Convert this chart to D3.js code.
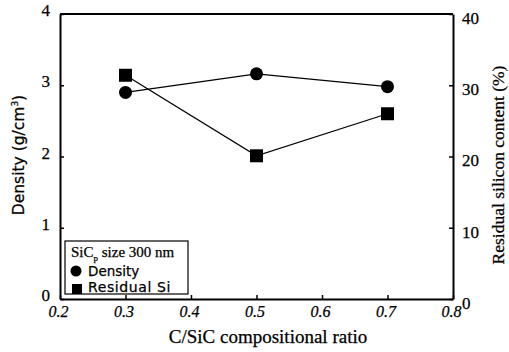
<!DOCTYPE html>
<html><head><meta charset="utf-8">
<script src="https://cdn.jsdelivr.net/npm/d3@7"></script>
<style>body{margin:0;background:#fff}svg{display:block}text{font-family:"Liberation Serif","Times New Roman",serif;fill:#000;stroke:#000;stroke-width:0.25px}</style>
</head><body>
<script>
const ratios = [0.3, 0.5, 0.7];
const density = [2.90, 3.16, 2.98];
const residualSi = [31.4, 20.1, 26.0];
const xTicks = [0.2, 0.3, 0.4, 0.5, 0.6, 0.7, 0.8];
const yLeftTicks = [0, 1, 2, 3, 4];
const yRightTicks = [0, 10, 20, 30, 40];

const W = 509, H = 352;
const m = {l: 60, r: 56, t: 14, b: 53};
const svg = d3.select("body").append("svg").attr("width", W).attr("height", H);
const x = d3.scaleLinear().domain([0.2, 0.8]).range([m.l, W - m.r]);
const yL = d3.scaleLinear().domain([0, 4]).range([H - m.b, m.t]);
const yR = d3.scaleLinear().domain([0, 40]).range([H - m.b, m.t]);

const gx = svg.append("g").attr("transform", `translate(0,${H - m.b})`)
  .call(d3.axisBottom(x).tickValues(xTicks).tickFormat(d3.format(".1f")).tickSizeInner(-4).tickSizeOuter(0).tickPadding(7));
gx.selectAll("text").style("font-size", "16px").style("font-style", "italic").attr("dx", -2);
const gl = svg.append("g").attr("transform", `translate(${m.l},0)`)
  .call(d3.axisLeft(yL).tickValues(yLeftTicks).tickFormat(d3.format("d")).tickSizeInner(-4).tickSizeOuter(0).tickPadding(10));
gl.selectAll("text").style("font-size", "17px").attr("dy", "0.1em");
const gr = svg.append("g").attr("transform", `translate(${W - m.r},0)`)
  .call(d3.axisRight(yR).tickValues(yRightTicks).tickFormat(d3.format("d")).tickSizeInner(-4).tickSizeOuter(0).tickPadding(9));
gr.selectAll("text").style("font-size", "17px").attr("dy", "0.55em");
svg.selectAll(".domain").attr("stroke", "#000").attr("stroke-width", 2);
svg.selectAll(".tick line").attr("stroke", "#000").attr("stroke-width", 1.5);
svg.append("line").attr("x1", m.l).attr("x2", W - m.r).attr("y1", m.t).attr("y2", m.t).attr("stroke", "#000").attr("stroke-width", 2);

const line = d3.line();
svg.append("path").attr("d", line(ratios.map((r, i) => [x(r), yL(density[i])])))
  .attr("fill", "none").attr("stroke", "#000").attr("stroke-width", 1.3);
svg.append("path").attr("d", line(ratios.map((r, i) => [x(r), yR(residualSi[i])])))
  .attr("fill", "none").attr("stroke", "#000").attr("stroke-width", 1.3);
svg.selectAll("circle.d").data(ratios).join("circle")
  .attr("cx", d => x(d)).attr("cy", (d, i) => yL(density[i])).attr("r", 6.5).attr("fill", "#000");
svg.selectAll("rect.s").data(ratios).join("rect")
  .attr("x", d => x(d) - 6.5).attr("y", (d, i) => yR(residualSi[i]) - 6.5).attr("width", 13).attr("height", 13).attr("fill", "#000");

// axis titles
svg.append("text").attr("x", 268).attr("y", 343).attr("text-anchor", "middle")
  .style("font-size", "19px").text("C/SiC compositional ratio");
const lt = svg.append("text").attr("transform", `translate(24,155) rotate(-90)`)
  .attr("text-anchor", "middle").style("font-size", "15.5px").style("font-family", "'DejaVu Sans', sans-serif");
lt.append("tspan").text("Density (g/cm");
lt.append("tspan").attr("dy", -6).style("font-size", "9px").text("3");
lt.append("tspan").attr("dy", 6).text(")");
svg.append("text").attr("transform", `translate(504,165) rotate(-90)`)
  .attr("text-anchor", "middle").style("font-size", "17.5px").text("Residual silicon content (%)");

// legend
const lg = svg.append("g");
lg.append("rect").attr("x", 65).attr("y", 241).attr("width", 123).attr("height", 53)
  .attr("fill", "#fff").attr("stroke", "#000").attr("stroke-width", 1.2);
const t1 = lg.append("text").attr("x", 71).attr("y", 257).style("font-size", "15px");
t1.append("tspan").text("SiC");
t1.append("tspan").attr("dy", 4).style("font-size", "9px").text("p");
t1.append("tspan").attr("dy", -4).text(" size  300 nm");
lg.append("circle").attr("cx", 76).attr("cy", 271).attr("r", 5.5).attr("fill", "#000");
lg.append("text").attr("x", 88).attr("y", 276).style("font-size", "13.5px").style("font-family", "'DejaVu Sans', sans-serif").text("Density");
lg.append("rect").attr("x", 72).attr("y", 284).attr("width", 10).attr("height", 10).attr("fill", "#000");
lg.append("text").attr("x", 88).attr("y", 292).style("font-size", "14px").style("letter-spacing", "0.6px").style("font-family", "'DejaVu Sans', sans-serif").text("Residual Si");
</script>
</body></html>
